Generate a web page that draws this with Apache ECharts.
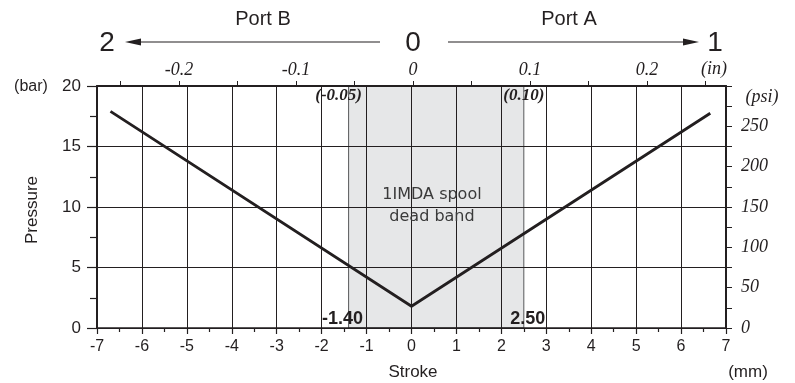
<!DOCTYPE html>
<html><head><meta charset="utf-8">
<script src="https://cdn.jsdelivr.net/npm/echarts@6/dist/echarts.min.js"></script>
<style>html,body{margin:0;padding:0;background:#fff}#c{width:795px;height:383px}</style>
</head><body><div id="c"></div>
<script>
// ---- data ----
const strokeMm = [-6.7, 0, 6.65];
const pressureBar = [17.9, 1.8, 17.75];
const deadBand = [-1.4, 2.5];
const deadBandMmLabels = ['-1.40', '2.50'];
const deadBandInLabels = ['(-0.05)', '(0.10)'];
const inchTicks = [-0.25, -0.2, -0.15, -0.1, -0.05, 0, 0.05, 0.1, 0.15, 0.2, 0.25];
const inchLabels = [-0.2, -0.1, 0, 0.1, 0.2];
const psiTicks = [0, 25, 50, 75, 100, 125, 150, 175, 200, 225, 250, 275, 300];
const psiLabels = [0, 50, 100, 150, 200, 250];

const INK = '#231f20';
const SANS = '"Liberation Sans", Arial, sans-serif';
const SERIF = '"Liberation Serif", "Times New Roman", serif';

const chart = echarts.init(document.getElementById('c'), null, {renderer: 'canvas'});
const lineData = strokeMm.map((x, i) => [x, pressureBar[i]]);

function txt(x, y, text, font, extra) {
  return Object.assign({type: 'text', x: x, y: y, z: 20,
    style: {text: text, font: font, fill: INK, textAlign: 'center', textVerticalAlign: 'middle'}}, extra || {});
}

chart.setOption({
  animation: false,
  grid: {left: 97, right: 69, top: 86, bottom: 55, containLabel: false},
  xAxis: [
    {
      type: 'value', position: 'bottom', min: -7, max: 7, interval: 1, z: 2,
      axisLine: {show: true, onZero: false, lineStyle: {color: INK, width: 1.5}},
      axisTick: {show: true, length: 6, lineStyle: {color: INK, width: 1.2}},
      minorTick: {show: true, splitNumber: 2, length: 4, lineStyle: {color: INK, width: 1.2}},
      splitLine: {show: true, lineStyle: {color: INK, width: 1}},
      axisLabel: {color: INK, fontFamily: SANS, fontSize: 16, margin: 11}
    },
    {
      type: 'value', position: 'top', min: -0.270, max: 0.2675, z: 2,
      axisLine: {show: true, onZero: false, lineStyle: {color: INK, width: 2}},
      axisTick: {show: true, length: 5, customValues: inchTicks, lineStyle: {color: INK, width: 1}},
      splitLine: {show: false},
      axisLabel: {customValues: inchLabels, color: INK, fontFamily: SERIF, fontStyle: 'italic', fontSize: 18, margin: 7,
        formatter: v => String(v)}
    }
  ],
  yAxis: [
    {
      type: 'value', position: 'left', min: 0, max: 20, interval: 5, z: 2,
      axisLine: {show: true, onZero: false, lineStyle: {color: INK, width: 2}},
      axisTick: {show: true, length: 10, lineStyle: {color: INK, width: 1.2}},
      minorTick: {show: true, splitNumber: 2, length: 7, lineStyle: {color: INK, width: 1.2}},
      splitLine: {show: true, lineStyle: {color: INK, width: 1}},
      axisLabel: {color: INK, fontFamily: SANS, fontSize: 17, margin: 16}
    },
    {
      type: 'value', position: 'right', min: 0, max: 300, z: 2,
      axisLine: {show: true, onZero: false, lineStyle: {color: INK, width: 2}},
      axisTick: {show: true, length: 6, customValues: psiTicks, lineStyle: {color: INK, width: 1}},
      splitLine: {show: false},
      axisLabel: {customValues: psiLabels, color: INK, fontFamily: SERIF, fontStyle: 'italic', fontSize: 18, margin: 15}
    }
  ],
  series: [
    {
      type: 'custom', z: 1, silent: true,
      data: [deadBand],
      renderItem: (params, api) => {
        const p0 = api.coord([api.value(0), 20]);
        const p1 = api.coord([api.value(1), 0]);
        return {
          type: 'rect',
          shape: {x: p0[0], y: p0[1], width: p1[0] - p0[0], height: p1[1] - p0[1]},
          style: {fill: '#e6e7e8', stroke: '#58595b', lineWidth: 1}
        };
      },
      encode: {x: [0, 1]}
    },
    {
      type: 'line', z: 3, data: lineData, symbol: 'none',
      lineStyle: {color: INK, width: 2.8}
    },
    {
      type: 'scatter', z: 5, symbolSize: 1, itemStyle: {opacity: 0},
      data: deadBand.map((x, i) => ({
        value: [x, 0],
        label: {show: true, formatter: deadBandMmLabels[i], position: 'top', distance: 0,
          offset: [i === 0 ? -6 : 4, 1],
          textBorderWidth: 0, opacity: 1,
          fontFamily: SANS, fontWeight: 'bold', fontSize: 18, color: INK}
      }))
    },
    {
      type: 'scatter', z: 5, symbolSize: 1, itemStyle: {opacity: 0},
      data: deadBand.map((x, i) => ({
        value: [x, 20],
        label: {show: true, formatter: deadBandInLabels[i], position: 'bottom', distance: 0,
          offset: [i === 0 ? -10 : 0, 1],
          textBorderWidth: 0, opacity: 1,
          fontFamily: SERIF, fontWeight: 'bold', fontStyle: 'italic', fontSize: 17, color: INK}
      }))
    }
  ],
  graphic: [
    txt(263, 19, 'Port B', '20px ' + SANS),
    txt(569, 19, 'Port A', '20px ' + SANS),
    txt(107, 43, '2', '28px ' + SANS),
    txt(413, 43, '0', '28px ' + SANS),
    txt(715, 43, '1', '28px ' + SANS),
    {type: 'line', z: 20, shape: {x1: 380, y1: 42, x2: 136, y2: 42}, style: {stroke: INK, lineWidth: 1.2}},
    {type: 'polygon', z: 20, shape: {points: [[125, 42], [141, 38.5], [141, 45.5]]}, style: {fill: INK}},
    {type: 'line', z: 20, shape: {x1: 448, y1: 42, x2: 688, y2: 42}, style: {stroke: INK, lineWidth: 1.2}},
    {type: 'polygon', z: 20, shape: {points: [[699, 42], [683, 38.5], [683, 45.5]]}, style: {fill: INK}},
    txt(31, 87, '(bar)', '16px ' + SANS),
    txt(32, 210, 'Pressure', '17px ' + SANS, {rotation: Math.PI / 2}),
    txt(413, 372, 'Stroke', '17px ' + SANS),
    txt(748, 372, '(mm)', '17px ' + SANS),
    txt(762, 97, '(psi)', 'italic 18px ' + SERIF),
    txt(714, 69, '(in)', 'italic 18px ' + SERIF),
    {type: 'text', x: 432, y: 206, z: 20, style: {text: '1IMDA spool\ndead band', font: '16px "DejaVu Sans", Verdana, sans-serif', lineHeight: 22, fill: '#3a3a3a', textAlign: 'center', textVerticalAlign: 'middle'}}
  ]
});
</script>
</body></html>
